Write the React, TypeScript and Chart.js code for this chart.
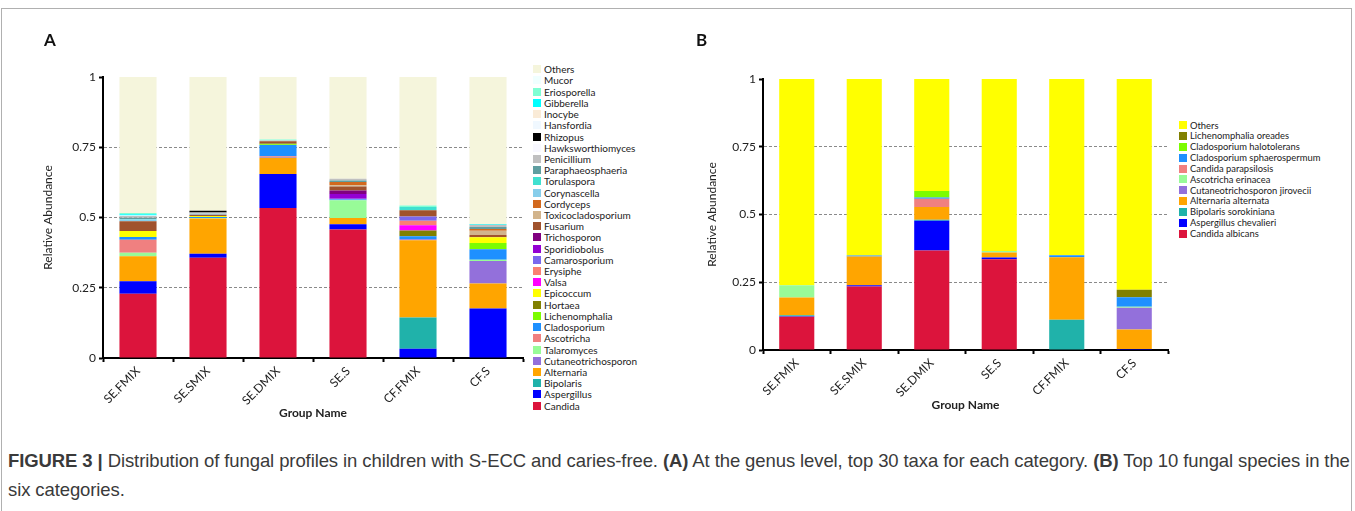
import React, { useEffect, useRef } from "react";
import { Chart, registerables } from "chart.js";

Chart.register(...registerables);

// ---------- shared ----------
const groups = ["SE.FMIX", "SE.SMIX", "SE.DMIX", "SE.S", "CF.FMIX", "CF.S"];
const yTickStep = 0.25;

// ---------- Panel A : genus level (values per group, bottom of stack first) ----------
const candida = [0.229, 0.357, 0.534, 0.457, 0, 0];
const aspergillus = [0.044, 0.014, 0.121, 0.019, 0.033, 0.176];
const bipolaris = [0, 0, 0, 0, 0.111, 0];
const alternaria = [0.089, 0.125, 0.058, 0.022, 0.275, 0.089];
const cutaneotrichosporon = [0, 0, 0.002, 0, 0.004, 0.08];
const talaromyces = [0.013, 0.002, 0, 0.063, 0, 0.005];
const ascotricha = [0.046, 0, 0.003, 0, 0, 0];
const cladosporium = [0.01, 0.004, 0.04, 0.003, 0.01, 0.037];
const lichenomphalia = [0, 0, 0.003, 0, 0, 0.022];
const hortaea = [0, 0, 0.002, 0, 0.021, 0];
const epicoccum = [0.021, 0.003, 0, 0, 0, 0.021];
const valsa = [0, 0, 0, 0, 0.018, 0];
const erysiphe = [0, 0, 0, 0, 0.016, 0];
const camarosporium = [0, 0, 0, 0.003, 0.016, 0];
const sporidiobolus = [0, 0, 0, 0.017, 0, 0];
const trichosporon = [0, 0, 0, 0.012, 0, 0];
const fusarium = [0.035, 0.005, 0.008, 0.014, 0.022, 0.008];
const toxicocladosporium = [0, 0, 0, 0.005, 0, 0.015];
const cordyceps = [0, 0, 0, 0.011, 0, 0.006];
const corynascella = [0.006, 0.003, 0, 0, 0, 0];
const torulaspora = [0.002, 0, 0, 0, 0.011, 0];
const paraphaeosphaeria = [0.004, 0, 0, 0.006, 0, 0.007];
const penicillium = [0.006, 0.005, 0.003, 0.006, 0, 0.008];
const hawksworthiomyces = [0.002, 0, 0, 0, 0, 0];
const rhizopus = [0, 0.006, 0, 0, 0, 0];
const hansfordia = [0, 0, 0, 0, 0, 0];
const inocybe = [0, 0, 0, 0, 0, 0];
const gibberella = [0.005, 0, 0, 0, 0, 0.003];
const eriosporella = [0.004, 0, 0.004, 0, 0.006, 0];
const mucor = [0, 0, 0, 0, 0, 0];
const othersA = [0.484, 0.476, 0.222, 0.362, 0.457, 0.523];

const genusNames = [
  "Candida", "Aspergillus", "Bipolaris", "Alternaria", "Cutaneotrichosporon",
  "Talaromyces", "Ascotricha", "Cladosporium", "Lichenomphalia", "Hortaea",
  "Epicoccum", "Valsa", "Erysiphe", "Camarosporium", "Sporidiobolus",
  "Trichosporon", "Fusarium", "Toxicocladosporium", "Cordyceps", "Corynascella",
  "Torulaspora", "Paraphaeosphaeria", "Penicillium", "Hawksworthiomyces", "Rhizopus",
  "Hansfordia", "Inocybe", "Gibberella", "Eriosporella", "Mucor", "Others",
];
const genusColors = [
  "#DC143C", "#0000FF", "#20B2AA", "#FFA500", "#9370DB",
  "#98FB98", "#F08080", "#1E90FF", "#7CFC00", "#808000",
  "#FFFF00", "#FF00FF", "#FA8072", "#7B68EE", "#9400D3",
  "#800080", "#A0522D", "#D2B48C", "#D2691E", "#87CEEB",
  "#40E0D0", "#5F9EA0", "#C0C0C0", "#F8F8FF", "#000000",
  "#F0F8FF", "#FAEBD7", "#00FFFF", "#7FFFD4", "#F0FFFF", "#F5F5DC",
];
const genusValues = [
  candida, aspergillus, bipolaris, alternaria, cutaneotrichosporon,
  talaromyces, ascotricha, cladosporium, lichenomphalia, hortaea,
  epicoccum, valsa, erysiphe, camarosporium, sporidiobolus,
  trichosporon, fusarium, toxicocladosporium, cordyceps, corynascella,
  torulaspora, paraphaeosphaeria, penicillium, hawksworthiomyces, rhizopus,
  hansfordia, inocybe, gibberella, eriosporella, mucor, othersA,
];

// ---------- Panel B : species level ----------
const candidaAlbicans = [0.123, 0.234, 0.367, 0.335, 0, 0];
const aspergillusChevalieri = [0.002, 0.005, 0.11, 0.006, 0, 0.004];
const bipolarisSorokiniana = [0.003, 0, 0.004, 0, 0.112, 0];
const alternariaAlternata = [0.066, 0.106, 0.047, 0.019, 0.23, 0.072];
const cutaneotrichosporonJirovecii = [0, 0, 0, 0, 0, 0.08];
const ascotrichaErinacea = [0.045, 0, 0, 0.005, 0, 0.004];
const candidaParapsilosis = [0, 0, 0.03, 0, 0, 0];
const cladosporiumSphaerospermum = [0, 0.004, 0.005, 0, 0.008, 0.035];
const cladosporiumHalotolerans = [0, 0, 0.024, 0, 0, 0];
const lichenomphaliaOreades = [0, 0, 0, 0, 0, 0.027];
const othersB = [0.761, 0.651, 0.413, 0.635, 0.65, 0.778];

const speciesNames = [
  "Candida albicans", "Aspergillus chevalieri", "Bipolaris sorokiniana",
  "Alternaria alternata", "Cutaneotrichosporon jirovecii", "Ascotricha erinacea",
  "Candida parapsilosis", "Cladosporium sphaerospermum", "Cladosporium halotolerans",
  "Lichenomphalia oreades", "Others",
];
const speciesColors = [
  "#DC143C", "#0000FF", "#20B2AA", "#FFA500", "#9370DB", "#98FB98",
  "#F08080", "#1E90FF", "#7CFC00", "#808000", "#FFFF00",
];
const speciesValues = [
  candidaAlbicans, aspergillusChevalieri, bipolarisSorokiniana, alternariaAlternata,
  cutaneotrichosporonJirovecii, ascotrichaErinacea, candidaParapsilosis,
  cladosporiumSphaerospermum, cladosporiumHalotolerans, lichenomphaliaOreades, othersB,
];

// ---------- chart builder ----------
type Geom = {
  padding: { left: number; right: number; top: number; bottom: number };
  yWidth: number;
  xHeight: number;
  yTitlePad: number;
  xTitlePad: number;
  barPct: number;
};

const FONT = "Lato";
const TEXT = "#222";

function buildChart(
  canvas: HTMLCanvasElement,
  names: string[],
  colors: string[],
  values: number[][],
  g: Geom
) {
  return new Chart(canvas, {
    type: "bar",
    data: {
      labels: groups,
      datasets: names.map((n, i) => ({
        label: n,
        data: values[i],
        backgroundColor: colors[i],
        borderWidth: 0,
        barPercentage: g.barPct,
        categoryPercentage: 1,
      })),
    },
    options: {
      responsive: false,
      animation: false,
      devicePixelRatio: 1,
      layout: { padding: g.padding },
      plugins: {
        legend: { display: false },
        tooltip: { enabled: false },
        title: { display: false },
      },
      scales: {
        x: {
          stacked: true,
          afterFit: (s: any) => {
            s.height = g.xHeight;
          },
          grid: {
            drawOnChartArea: false,
            drawTicks: true,
            tickLength: 4,
            tickColor: "#000",
            tickWidth: 2,
          },
          border: { display: true, color: "#000", width: 2 },
          ticks: {
            autoSkip: false,
            minRotation: 45,
            maxRotation: 45,
            padding: 2,
            color: TEXT,
            font: { family: FONT, size: 12 },
          },
          title: {
            display: true,
            text: "Group Name",
            color: TEXT,
            font: { family: FONT, size: 12, weight: "bold" },
            padding: { top: 0, bottom: g.xTitlePad },
          },
        },
        y: {
          stacked: true,
          min: 0,
          max: 1,
          afterFit: (s: any) => {
            s.width = g.yWidth;
          },
          ticks: {
            stepSize: yTickStep,
            padding: 3,
            color: TEXT,
            font: { family: FONT, size: 12 },
            callback: (v: any) => String(Math.round(Number(v) * 100) / 100),
          },
          grid: {
            color: (ctx: any) =>
              ctx.tick && (ctx.tick.value === 0 || ctx.tick.value === 1)
                ? "rgba(0,0,0,0)"
                : "#8a8a8a",
            tickBorderDash: [],
            tickColor: "#000",
            tickWidth: 2,
            tickLength: 4,
            lineWidth: 1,
          },
          border: { display: true, color: "#000", width: 2, dash: [3, 2] },
          title: {
            display: true,
            text: "Relative Abundance",
            color: TEXT,
            font: { family: FONT, size: 12 },
            padding: { top: g.yTitlePad, bottom: 0 },
          },
        },
      },
    } as any,
  });
}

function Legend(props: {
  names: string[];
  colors: string[];
  left: number;
  top: number;
  step: number;
  fontSize: number;
  box: number;
}) {
  const { names, colors, left, top, step, fontSize, box } = props;
  const n = names.length;
  const items = names.map((_, i) => n - 1 - i);
  return (
    <div style={{ position: "absolute", left, top }}>
      {items.map((idx, row) => (
        <div
          key={names[idx]}
          style={{
            position: "absolute",
            left: 0,
            top: row * step,
            height: step,
            display: "flex",
            alignItems: "center",
            whiteSpace: "nowrap",
          }}
        >
          <span
            style={{
              display: "inline-block",
              width: box,
              height: box,
              background: colors[idx],
              marginRight: 3,
            }}
          />
          <span style={{ fontFamily: FONT, fontSize, color: TEXT, lineHeight: 1 }}>
            {names[idx]}
          </span>
        </div>
      ))}
    </div>
  );
}

export default function App() {
  const refA = useRef<HTMLCanvasElement>(null);
  const refB = useRef<HTMLCanvasElement>(null);

  useEffect(() => {
    const a = buildChart(refA.current!, genusNames, genusColors, genusValues, {
      padding: { left: 0, right: 7, top: 77, bottom: 0 },
      yWidth: 103,
      xHeight: 72,
      yTitlePad: 41,
      xTitlePad: 10,
      barPct: 0.53,
    });
    const b = buildChart(refB.current!, speciesNames, speciesColors, speciesValues, {
      padding: { left: 0, right: 2, top: 79, bottom: 0 },
      yWidth: 103,
      xHeight: 80,
      yTitlePad: 45,
      xTitlePad: 18,
      barPct: 0.52,
    });
    return () => {
      a.destroy();
      b.destroy();
    };
  }, []);

  return (
    <div
      style={{
        position: "absolute",
        left: 0,
        top: 0,
        width: 1355,
        height: 511,
        background: "#fff",
        overflow: "hidden",
      }}
    >
      <div
        style={{
          position: "absolute",
          left: 1,
          top: 8,
          width: 1351,
          height: 560,
          border: "1px solid #b0b0b0",
          boxSizing: "border-box",
        }}
      />
      <canvas
        ref={refA}
        width={530}
        height={430}
        style={{ position: "absolute", left: 0, top: 0 }}
      />
      <canvas
        ref={refB}
        width={510}
        height={430}
        style={{ position: "absolute", left: 660, top: 0 }}
      />
      <div
        style={{
          position: "absolute",
          left: 44,
          top: 29,
          fontFamily: FONT,
          fontWeight: "bold",
          fontSize: 17,
          color: "#111",
        }}
      >
        A
      </div>
      <div
        style={{
          position: "absolute",
          left: 696,
          top: 29,
          fontFamily: FONT,
          fontWeight: "bold",
          fontSize: 17,
          color: "#111",
        }}
      >
        B
      </div>
      <Legend
        names={genusNames}
        colors={genusColors}
        left={533}
        top={63.7}
        step={11.21}
        fontSize={10}
        box={8}
      />
      <Legend
        names={speciesNames}
        colors={speciesColors}
        left={1179}
        top={119.9}
        step={10.84}
        fontSize={9.4}
        box={8}
      />
      <div
        style={{
          position: "absolute",
          left: 8,
          top: 446,
          fontFamily: '"Liberation Sans", Arial, sans-serif',
          fontSize: 18.5,
          letterSpacing: "-0.1px",
          lineHeight: "29px",
          color: "#3a3a3a",
          whiteSpace: "nowrap",
        }}
      >
        <b>FIGURE 3 |</b> Distribution of fungal profiles in children with S-ECC and
        caries-free. <b>(A)</b> At the genus level, top 30 taxa for each category.{" "}
        <b>(B)</b> Top 10 fungal species in the
        <br />
        six categories.
      </div>
    </div>
  );
}
